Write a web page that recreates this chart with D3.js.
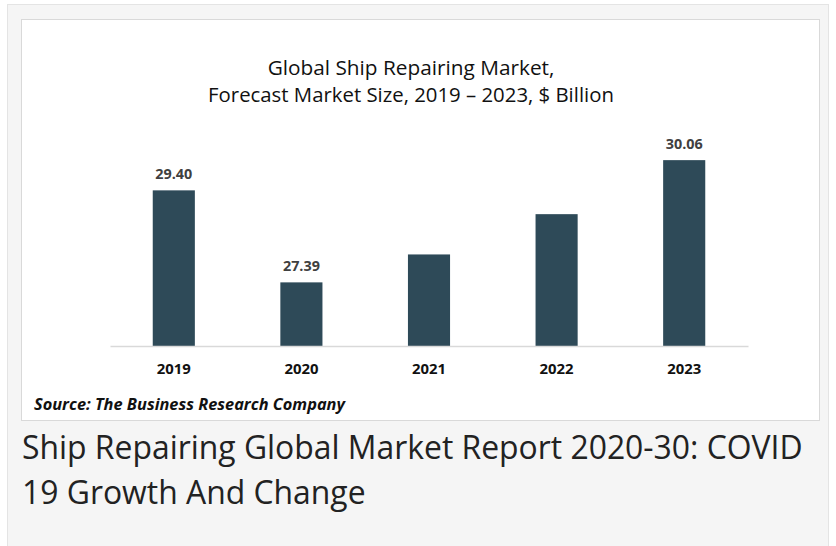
<!DOCTYPE html>
<html>
<head>
<meta charset="utf-8">
<script src="https://cdn.jsdelivr.net/npm/d3@7"></script>
<style>
  body { margin: 0; background: #fff; }
  svg { display: block; }
</style>
</head>
<body>
<svg width="836" height="546"></svg>
<script>
const years = ["2019", "2020", "2021", "2022", "2023"];
const values = [29.40, 27.39, 28.00, 28.88, 30.06];
const shownLabels = ["29.40", "27.39", "", "", "30.06"];
const titleLines = ["Global Ship Repairing Market,", "Forecast Market Size, 2019 \u2013 2023, $ Billion"];
const captionLines = ["Ship Repairing Global Market Report 2020-30: COVID", "19 Growth And Change"];

const svg = d3.select("svg");
const font = "'Open Sans', sans-serif";

// scale the font size of a selection so its first text gets the wanted width
function fitWidth(sel, target) {
  const node = sel.node();
  const size = parseFloat(sel.attr("font-size"));
  const w = node.getComputedTextLength();
  if (w > 0) sel.attr("font-size", (size * target / w).toFixed(2));
}

// outer grey card
svg.append("rect")
  .attr("x", 7.5).attr("y", 4.5)
  .attr("width", 821).attr("height", 560)
  .attr("fill", "#f5f5f5")
  .attr("stroke", "#e4e4e4");

// inner white chart box
svg.append("rect")
  .attr("x", 21.5).attr("y", 19.5)
  .attr("width", 798).attr("height", 401)
  .attr("fill", "#fff")
  .attr("stroke", "#d9d9d9");

const title = svg.append("g").selectAll("text")
  .data(titleLines)
  .enter().append("text")
  .attr("x", 411)
  .attr("y", (d, i) => 75 + i * 27)
  .attr("text-anchor", "middle")
  .attr("font-family", font)
  .attr("font-size", 17)
  .attr("fill", "#111")
  .text(d => d);
title.each(function(d, i) { fitWidth(d3.select(this), [287, 406][i]); });

const x = d3.scaleBand()
  .domain(years)
  .range([110, 748])
  .paddingInner(0.67)
  .paddingOuter(0.335);

const y = d3.scaleLinear()
  .domain([26, 30.5])
  .range([346, 140]);

svg.append("g")
  .selectAll("rect")
  .data(values)
  .enter().append("rect")
  .attr("x", (d, i) => x(years[i]))
  .attr("width", x.bandwidth())
  .attr("y", d => y(d))
  .attr("height", d => y(26) - y(d))
  .attr("fill", "#2e4a58");

const xAxis = svg.append("g")
  .attr("transform", "translate(0,346)")
  .call(d3.axisBottom(x).tickSize(0).tickPadding(17));
xAxis.select(".domain").attr("stroke", "#d9d9d9").attr("stroke-width", 1.5);
xAxis.selectAll("text")
  .attr("font-family", font)
  .attr("font-size", 13)
  .attr("font-weight", "bold")
  .attr("fill", "#111");
fitWidth(xAxis.selectAll("text"), 34);
xAxis.selectAll("text").attr("font-size", xAxis.select("text").attr("font-size"));

const valueLabels = svg.append("g").selectAll("text")
  .data(values)
  .enter().append("text")
  .attr("x", (d, i) => x(years[i]) + x.bandwidth() / 2)
  .attr("y", d => y(d) - 11)
  .attr("text-anchor", "middle")
  .attr("font-family", font)
  .attr("font-size", 13)
  .attr("font-weight", "bold")
  .attr("fill", "#404040")
  .text((d, i) => shownLabels[i]);
fitWidth(valueLabels, 37);
valueLabels.attr("font-size", valueLabels.attr("font-size"));

const source = svg.append("text")
  .attr("x", 34)
  .attr("y", 410)
  .attr("font-family", font)
  .attr("font-size", 14)
  .attr("font-weight", "bold")
  .attr("font-style", "italic")
  .attr("fill", "#111")
  .text("Source: The Business Research Company");
fitWidth(source, 311);

const caption = svg.append("g").selectAll("text")
  .data(captionLines)
  .enter().append("text")
  .attr("x", 22)
  .attr("y", (d, i) => 459 + i * 45)
  .attr("font-family", font)
  .attr("font-size", 30)
  .attr("fill", "#222")
  .text(d => d);
fitWidth(caption, 781);
caption.attr("font-size", caption.attr("font-size"));
</script>
</body>
</html>
